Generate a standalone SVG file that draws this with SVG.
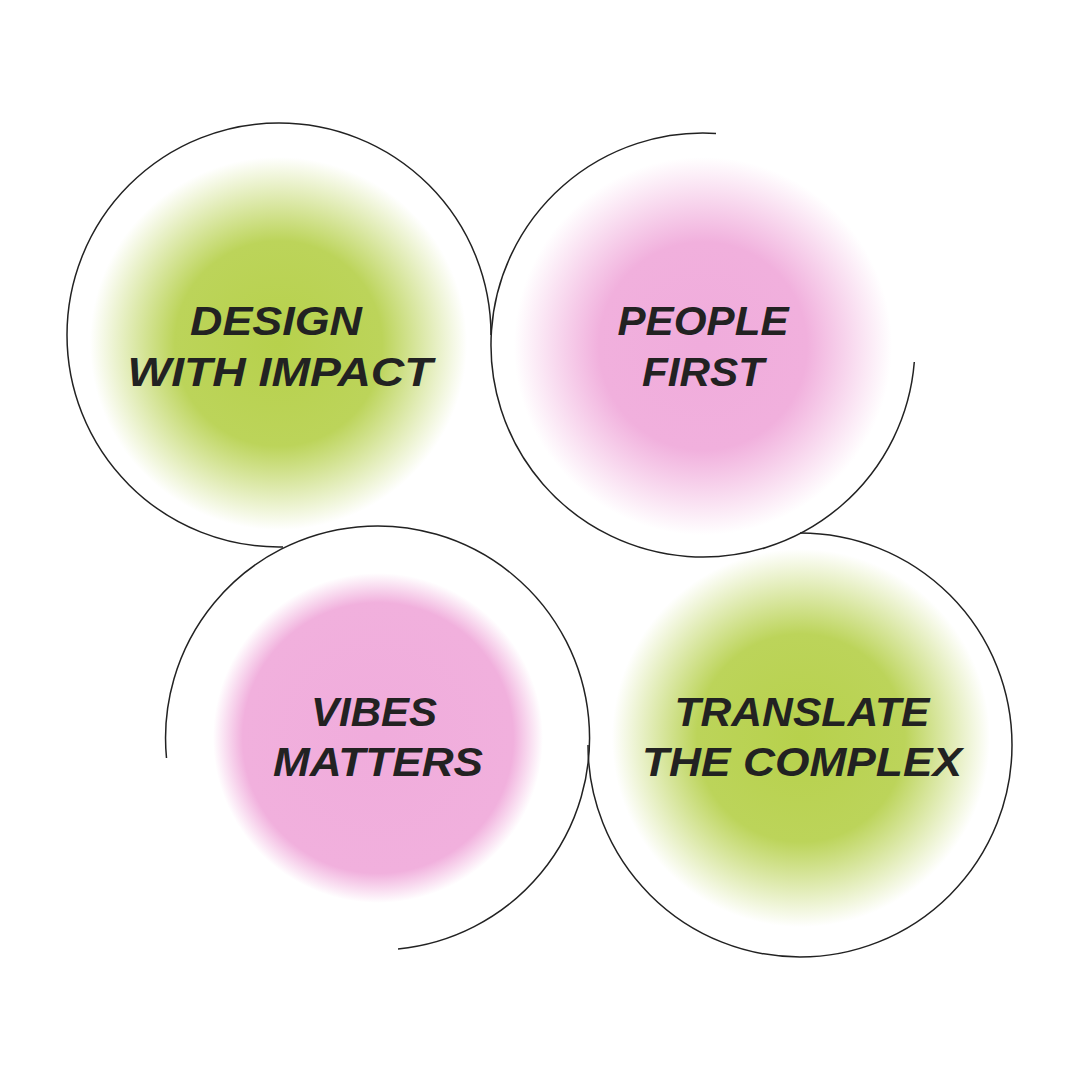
<svg xmlns="http://www.w3.org/2000/svg" width="1080" height="1080" viewBox="0 0 1080 1080">
<defs>
<radialGradient id="g"><stop offset="0" stop-color="#b7d14c"/><stop offset="0.55" stop-color="#bcd45a"/><stop offset="1" stop-color="#bcd45a" stop-opacity="0"/></radialGradient>
<radialGradient id="p"><stop offset="0" stop-color="#f0acdc"/><stop offset="0.55" stop-color="#f1b0dd"/><stop offset="1" stop-color="#f1b0dd" stop-opacity="0"/></radialGradient>
<radialGradient id="p2"><stop offset="0" stop-color="#f0acdc"/><stop offset="0.82" stop-color="#f1b0dd"/><stop offset="1" stop-color="#f1b0dd" stop-opacity="0"/></radialGradient>
</defs>
<style>
.t{font-family:"Liberation Sans",Arial,sans-serif;font-weight:bold;font-style:italic;font-size:40px;fill:#222;text-anchor:middle}
.a{fill:none;stroke:#222;stroke-width:1.5}
</style>
<rect width="1080" height="1080" fill="#fff"/>
<g id="n1">
<rect x="90" y="157" width="377" height="373" fill="url(#g)"/>
<text class="t" x="276" y="335" textLength="172" lengthAdjust="spacingAndGlyphs">DESIGN</text>
<text class="t" x="280" y="386" textLength="305" lengthAdjust="spacingAndGlyphs">WITH IMPACT</text>
</g>
<g id="n2">
<rect x="514" y="157" width="378" height="378" fill="url(#p)"/>
<text class="t" x="703" y="335" textLength="171" lengthAdjust="spacingAndGlyphs">PEOPLE</text>
<text class="t" x="703" y="386" textLength="122" lengthAdjust="spacingAndGlyphs">FIRST</text>
</g>
<g id="n3">
<circle cx="378" cy="738" r="165" fill="url(#p2)"/>
<text class="t" x="374" y="726" textLength="126" lengthAdjust="spacingAndGlyphs">VIBES</text>
<text class="t" x="378" y="776" textLength="210" lengthAdjust="spacingAndGlyphs">MATTERS</text>
</g>
<g id="n4">
<rect x="612" y="549" width="378" height="378" fill="url(#g)"/>
<text class="t" x="802" y="726" textLength="255" lengthAdjust="spacingAndGlyphs">TRANSLATE</text>
<text class="t" x="802" y="776" textLength="320" lengthAdjust="spacingAndGlyphs">THE COMPLEX</text>
</g>
<g id="connectors">
<path class="a" d="M491,335 A212,212 0 1 0 279,547 L283,547"/>
<path class="a" d="M716,133.4 A212,212 0 1 0 914.3,362"/>
<path class="a" d="M166.5,758 A212,212 0 1 1 398,949"/>
<path class="a" d="M800,533 A212,212 0 1 1 588,745"/>
</g>
</svg>
